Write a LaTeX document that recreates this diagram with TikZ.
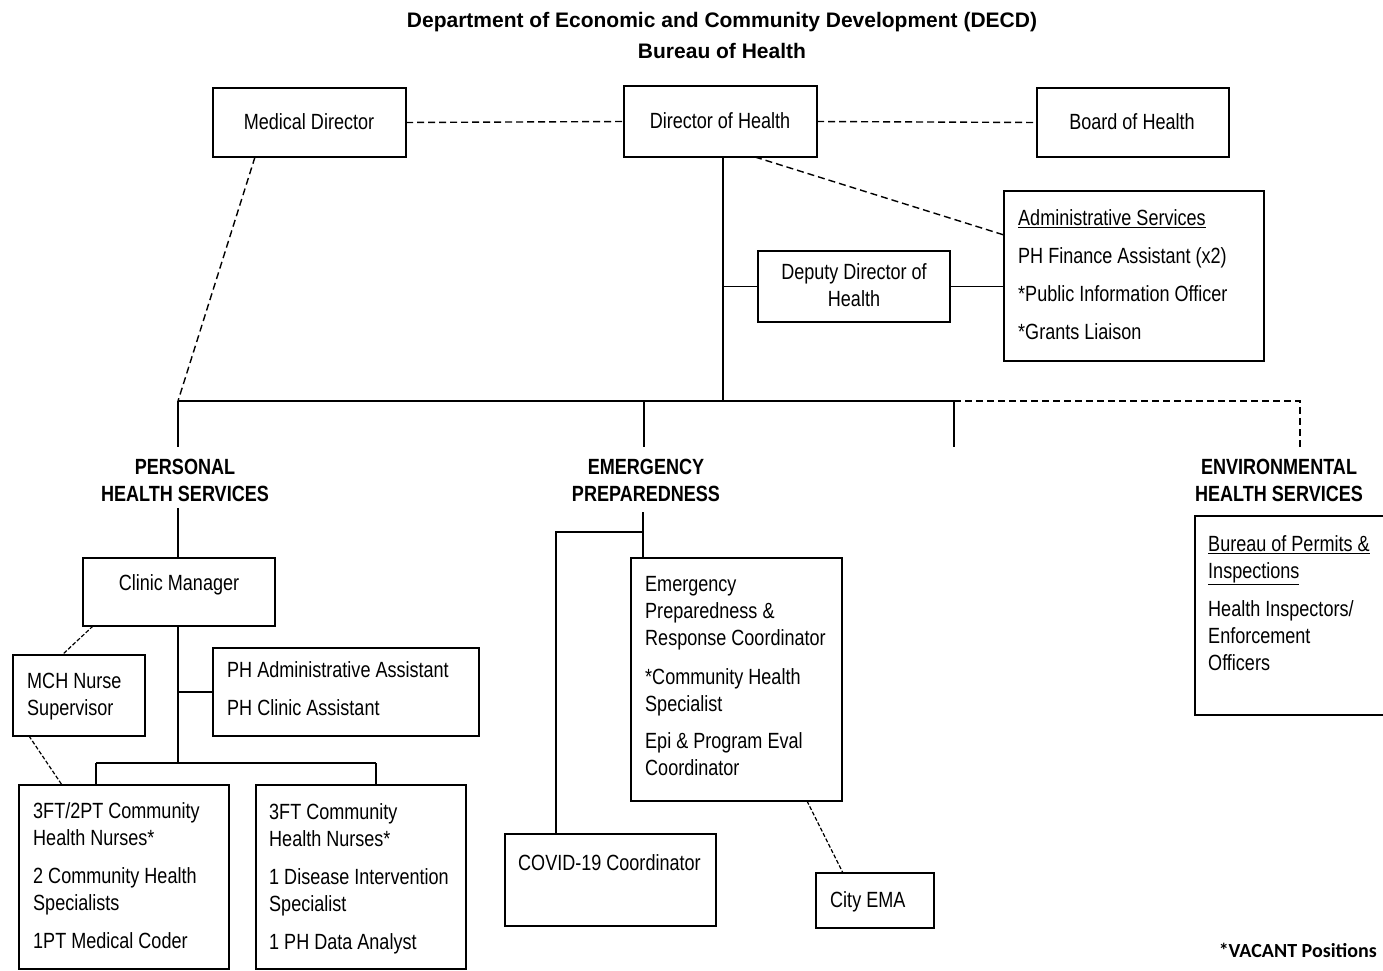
\documentclass[tikz,border=0pt]{standalone}
\usepackage{fontspec}
\setmainfont[FakeStretch=0.82]{Liberation Sans}
\newfontfamily\titlefont{Liberation Sans}
\newfontfamily\vacfont{Carlito}
\usetikzlibrary{calc}
\tikzset{
  box/.style={draw, line width=1.4pt, inner sep=0pt, outer sep=0pt},
  conn/.style={line width=1.4pt},
  dconn/.style={line width=1.4pt, dash pattern=on 7pt off 4pt},
  fconn/.style={line width=1.2pt, dash pattern=on 4pt off 2pt},
  txt/.style={anchor=north west, inner sep=0pt, align=left, font=\fontsize{22}{27}\selectfont},
  ctxt/.style={inner sep=0pt, align=center, font=\fontsize{22}{27}\selectfont},
  head/.style={inner sep=0pt, align=center, font=\fontsize{22}{27}\selectfont\bfseries},
}
\begin{document}
\begin{tikzpicture}[x=1pt,y=-1pt]
\useasboundingbox (0,0) rectangle (1383,971);

% title
\node[inner sep=0pt, align=center, font=\titlefont\bfseries\fontsize{21}{31}\selectfont] (title) at (722,35.5) {Department of Economic and Community Development (DECD)\\Bureau of Health};

% top row
\node[box, minimum width=193pt, minimum height=69pt] (md) at (309.5,122.5) {};
\node[ctxt] (mdt) at (309,122) {Medical Director};
\node[box, minimum width=193pt, minimum height=71pt] (doh) at (720.5,121.5) {};
\node[ctxt] (doht) at (720,121) {Director of Health};
\node[box, minimum width=192pt, minimum height=69pt] (boh) at (1133,122.5) {};
\node[ctxt] (boht) at (1132,122) {Board of Health};

% admin services
\node[box, minimum width=260pt, minimum height=170pt] (adm) at (1134,276) {};
\node[txt] (admt) at (1018,209) {\underline{Administrative Services}\\[11pt]PH Finance Assistant (x2)\\[11pt]*Public Information Officer\\[11pt]*Grants Liaison};

% deputy
\node[box, minimum width=192pt, minimum height=71pt] (dep) at (854,286.5) {};
\node[ctxt] (dept) at (854,285.5) {Deputy Director of\\Health};

% headings
\node[head] (phs) at (185,480.5) {PERSONAL\\HEALTH SERVICES};
\node[head] (eps) at (646,480.5) {EMERGENCY\\PREPAREDNESS};
\node[head] (ehs) at (1279,480.5) {ENVIRONMENTAL\\HEALTH SERVICES};

% personal health
\node[box, minimum width=192pt, minimum height=68pt] (cm) at (179,592) {};
\node[ctxt] (cmt) at (179,585) {Clinic Manager};
\node[box, minimum width=132pt, minimum height=81pt] (mch) at (79,695.5) {};
\node[txt] (mcht) at (27,673) {MCH Nurse\\Supervisor};
\node[box, minimum width=266pt, minimum height=88pt] (pha) at (346,692) {};
\node[txt] (phat) at (227,661) {PH Administrative Assistant\\[11pt]PH Clinic Assistant};
\node[box, minimum width=210pt, minimum height=184pt] (b1) at (124,877) {};
\node[txt] (b1t) at (33,802) {3FT/2PT Community\\Health Nurses*\\[11pt]2 Community Health\\Specialists\\[11pt]1PT Medical Coder};
\node[box, minimum width=210pt, minimum height=184pt] (b2) at (361,877) {};
\node[txt] (b2t) at (269,803) {3FT Community\\Health Nurses*\\[11pt]1 Disease Intervention\\Specialist\\[11pt]1 PH Data Analyst};

% emergency preparedness
\node[box, minimum width=211pt, minimum height=243pt] (er) at (736.5,679.5) {};
\node[txt] (ert) at (645,576) {Emergency\\Preparedness \&\\Response Coordinator\\[12pt]*Community Health\\Specialist\\[10pt]Epi \& Program Eval\\Coordinator};
\node[box, minimum width=211pt, minimum height=92pt] (cov) at (610.5,880) {};
\node[txt] (covt) at (518,854) {COVID-19 Coordinator};
\node[box, minimum width=118pt, minimum height=55pt] (ema) at (875,900.5) {};
\node[txt] (emat) at (830,891) {City EMA};

% environmental
\node[inner sep=0pt, outer sep=0pt, minimum width=188pt, minimum height=199pt] (env) at (1289,615.5) {};
\draw[line width=1.4pt] (env.north east) -- (env.north west) -- (env.south west) -- (env.south east);
\node[txt] (envt) at (1208,535) {\underline{Bureau of Permits \&}\\\underline{Inspections}\\[11pt]Health Inspectors/\\Enforcement\\Officers};

% footnote
\node[anchor=base east, inner sep=0pt, font=\vacfont\bfseries\fontsize{20}{24}\selectfont] (vac) at (1377,957) {*VACANT Positions};

% connectors top
\draw[dconn] (md.east) -- (doh.west);
\draw[dconn] (doh.east) -- (boh.west);
\draw[dconn] ($(doh.south west)+(131,0)$) -- ($(adm.north west)+(0,44)$);
\coordinate (bus) at (723,401);
\draw[conn] ($(doh.south)+(2.5,0)$) -- (bus);
\draw[conn] (bus |- dep.west) -- (dep.west);
\draw[conn] (dep.east) -- (adm.west |- dep.east);
\coordinate (busL) at (178,401);
\coordinate (busR) at (954,401);
\coordinate (busE) at (1300,401);
\draw[conn] (busL) -- (busR);
\draw[conn] (busR) -- (954,447);
\draw[dconn] (busR) -- (busE) -- (1300,447);
\draw[dconn] ($(md.south west)+(42,0)$) -- (busL);
\draw[conn] (busL) -- (178,447);
\draw[conn] (644,401) -- (644,447);

% personal connectors
\draw[conn] (178,508) -- (cm.north -| 178,0);
\draw[conn] (cm.south -| 178,0) -- (178,763);
\draw[conn] (178,692) -- (pha.west);
\draw[conn] (96,763) -- (376,763);
\draw[conn] (96,763) -- (b1.north -| 96,0);
\draw[conn] (376,763) -- (b2.north -| 376,0);
\draw[fconn] ($(cm.south west)+(10,0)$) -- ($(mch.north west)+(49,0)$);
\draw[fconn] ($(mch.south west)+(16,0)$) -- ($(b1.north west)+(43,0)$);

% emergency connectors
\draw[conn] (643,512) -- (er.north -| 643,0);
\draw[conn] (643,532) -- (556,532) -- (cov.north -| 556,0);
\draw[fconn] ($(er.south west)+(176,0)$) -- ($(ema.north west)+(27,0)$);
\end{tikzpicture}
\end{document}
